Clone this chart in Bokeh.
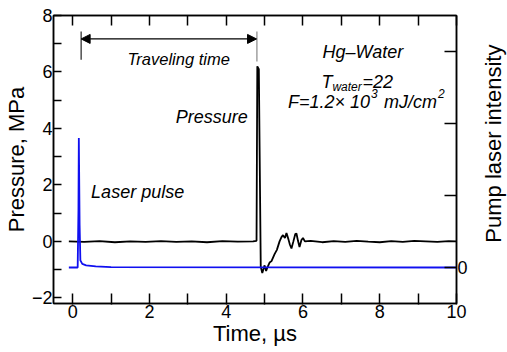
import math
from bokeh.plotting import figure
from bokeh.layouts import row
from bokeh.models import (Range1d, LinearAxis, FixedTicker, Label, Arrow,
                          NormalHead, ColumnDataSource)
from bokeh.embed import file_html
from bokeh.resources import INLINE

# ---- data ----
time_pressure = [-0.1, 0.3, 0.7, 1.1, 1.5, 1.9, 2.3, 2.7, 3.1, 3.5, 3.9, 4.3, 4.7,
                 4.79, 4.81, 4.85, 4.90, 4.94, 5.00, 5.04, 5.08, 5.13, 5.18, 5.26,
                 5.32, 5.39, 5.44, 5.48, 5.53, 5.57, 5.62, 5.66, 5.70, 5.75, 5.80,
                 5.83, 5.87, 5.91, 5.96, 6.00, 6.05, 6.2, 6.5, 6.8, 7.1, 7.4, 7.7,
                 8.0, 8.3, 8.6, 8.9, 9.2, 9.5, 9.8, 10.0]
pressure = [0.0, -0.02, 0.01, -0.03, 0.0, -0.02, 0.01, -0.02, 0.0, -0.03, 0.01, -0.01, 0.0,
            0.02, 6.2, 6.1, -0.9, -1.12, -0.85, -1.05, -0.9, -0.75, -0.7, -0.45,
            -0.3, 0.0, 0.15, 0.22, 0.12, 0.3, 0.08, -0.12, -0.25, 0.0, 0.26,
            0.28, 0.02, -0.2, 0.05, 0.12, 0.0, 0.02, -0.03, 0.01, -0.02, 0.02, -0.01,
            -0.03, 0.01, -0.02, 0.02, 0.0, -0.02, 0.01, 0.0]

time_laser = [-0.1, 0.13, 0.15, 0.16, 0.18, 0.20, 0.25, 0.35, 0.6, 1.0, 10.0]
laser = [0.0, 0.0, 0.8, 1.8, 0.6, 0.1, 0.05, 0.03, 0.015, 0.005, 0.0]

x_ticks = [0, 2, 4, 6, 8, 10]
x_minor = [1, 3, 5, 7, 9]
y_ticks = [-2, 0, 2, 4, 6, 8]
y_minor = [-1, 1, 3, 5, 7]
pump_ticks = [0, 1, 2, 3]

travel_start, travel_end, travel_y = 0.22, 4.79, 7.17
bar_x = [0.22, 4.80]
bar_y0 = [6.43, 6.37]
bar_y1 = [7.43, 7.43]

FONT = "Liberation Sans"

p = figure(width=470, height=352, x_range=Range1d(-0.5, 10), y_range=Range1d(-2.2, 8),
           output_backend="svg", toolbar_location=None,
           min_border_left=53, min_border_right=13, min_border_top=15, min_border_bottom=49)
p.extra_y_ranges = {"pump": Range1d(-0.5, 3.5)}
p.xgrid.visible = False
p.ygrid.visible = False
p.outline_line_color = "black"
p.outline_line_width = 1.5
p.background_fill_color = "white"
p.border_fill_color = "white"

def style_axis(ax):
    ax.axis_line_color = "black"
    ax.axis_line_width = 1.5
    ax.major_tick_line_color = "black"
    ax.major_tick_line_width = 1.5
    ax.minor_tick_line_color = "black"
    ax.minor_tick_line_width = 1.5
    ax.major_label_text_font = FONT
    ax.major_label_text_font_size = "18px"
    ax.major_label_text_color = "black"
    ax.axis_label_text_font = FONT
    ax.axis_label_text_font_style = "normal"
    ax.axis_label_text_color = "black"

# bottom axis
xa = p.xaxis[0]
style_axis(xa)
xa.ticker = FixedTicker(ticks=x_ticks, minor_ticks=x_minor)
xa.major_tick_in = 10
xa.major_tick_out = 1
xa.minor_tick_in = 10
xa.minor_tick_out = 1
xa.major_label_standoff = 0
xa.axis_label = "Time, µs"
xa.axis_label_text_font_size = "22px"
xa.axis_label_standoff = 0

# left axis
ya = p.yaxis[0]
style_axis(ya)
ya.ticker = FixedTicker(ticks=y_ticks, minor_ticks=y_minor)
ya.major_tick_in = 8
ya.major_tick_out = 0
ya.minor_tick_in = 8
ya.minor_tick_out = 0
ya.major_label_standoff = 1
ya.major_label_overrides = {-2: "−2"}
ya.axis_label = "Pressure, MPa"
ya.axis_label_text_font_size = "22px"
ya.axis_label_standoff = 0

# top axis (ticks only)
top = LinearAxis(ticker=FixedTicker(ticks=list(range(0, 11)), minor_ticks=[]))
style_axis(top)
top.major_tick_in = 10
top.major_tick_out = 0
top.major_label_text_font_size = "0px"
top.major_label_standoff = 0
p.add_layout(top, "above")

# right axis (pump laser intensity); its title sits in a narrow side panel
ra = LinearAxis(y_range_name="pump", ticker=FixedTicker(ticks=pump_ticks, minor_ticks=[]))
style_axis(ra)
ra.major_tick_in = 12
ra.major_tick_out = 0
ra.major_label_standoff = 1
ra.major_label_overrides = {1: "", 2: "", 3: ""}
p.add_layout(ra, "right")

# traces
p.line(time_pressure, pressure, line_color="black", line_width=1.8)
p.line(time_laser, laser, y_range_name="pump", line_color="#1010f0", line_width=1.8)

# travel-time annotation
bars = ColumnDataSource(dict(x=bar_x, y0=bar_y0, y1=bar_y1, c=["#222222", "#888888"]))
p.segment(x0="x", y0="y0", x1="x", y1="y1", source=bars, line_color="c", line_width=1.2)
p.add_layout(Arrow(x_start=travel_start, y_start=travel_y, x_end=travel_end, y_end=travel_y,
                   line_color="black", line_width=1.2,
                   start=NormalHead(size=9, fill_color="black", line_color="black"),
                   end=NormalHead(size=9, fill_color="black", line_color="black")))

def lab(x, y, text, size="18px", align="left", dx=0, dy=0):
    p.add_layout(Label(x=x, y=y, text=text, x_offset=dx, y_offset=dy,
                       text_font=FONT, text_font_style="italic",
                       text_font_size=size, text_align=align,
                       text_baseline="middle", text_color="black"))

lab(2.76, 6.46, "Traveling time", size="16.5px", align="center")
lab(4.56, 4.39, "Pressure", align="right")
lab(0.48, 1.74, "Laser pulse")
lab(7.56, 6.69, "Hg–Water", align="center")
lab(6.48, 5.66, "T")
lab(6.48, 5.66, "water", size="12px", dx=11, dy=-5)
lab(6.48, 5.66, "=22", dx=41)
lab(5.61, 4.95, "F=1.2× 10")
lab(5.61, 4.95, "3", size="12px", dx=83, dy=8)
lab(5.61, 4.95, "mJ/cm", dx=96)
lab(5.61, 4.95, "2", size="12px", dx=150, dy=8)

# side panel for the right-axis title (reads bottom to top)
side = figure(width=37, height=352, x_range=Range1d(0, 1), y_range=Range1d(0, 1),
              output_backend="svg", toolbar_location=None,
              x_axis_location=None, y_axis_location=None, min_border=0)
side.xgrid.visible = False
side.ygrid.visible = False
side.outline_line_color = None
side.background_fill_color = "white"
side.border_fill_color = "white"
side.add_layout(Label(x=0.63, y=0.555, text="Pump laser intensity", angle=math.pi / 2,
                      text_font=FONT, text_font_size="22px", text_align="center",
                      text_baseline="middle", text_color="black"))

layout = row(p, side, spacing=0)
open("out.html", "w").write(file_html(layout, INLINE))
